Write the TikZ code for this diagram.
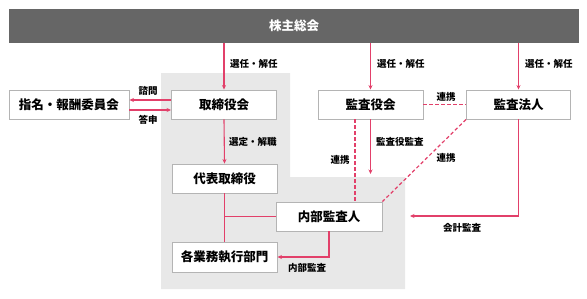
\documentclass[tikz,border=0pt]{standalone}
\usepackage{fontspec}
\setmainfont{Noto Sans CJK JP}
\usetikzlibrary{arrows.meta}
\definecolor{pinkred}{HTML}{E2406A}
\definecolor{barfill}{HTML}{666666}
\definecolor{zone}{HTML}{E8E8E8}
\definecolor{boxline}{HTML}{B4B4B4}
\begin{document}
\begin{tikzpicture}[x=1pt,y=-1pt,
  box/.style={draw=boxline,line width=0.9pt,fill=white,minimum height=29pt,inner sep=0pt,font=\fontsize{12.5}{14}\selectfont\bfseries},
  lbl/.style={font=\fontsize{9.5}{11}\selectfont\bfseries,inner sep=0pt},
  arr/.style={draw=pinkred,line width=1.1pt,-{Stealth[length=4.5pt,width=4pt]}},
  ln/.style={draw=pinkred,line width=1.1pt},
  dsh/.style={draw=pinkred,line width=1.2pt,dash pattern=on 3.5pt off 2.5pt}]
\useasboundingbox (0,0) rectangle (587,298);
% gray zone
\fill[zone] (161,73) -- (290,73) -- (290,177) -- (405,177) -- (405,289) -- (161,289) -- cycle;
% top bar
\node[fill=barfill,minimum width=570pt,minimum height=34pt,inner sep=0pt,text=white,font=\fontsize{12.5}{14}\selectfont\bfseries] (sh) at (294,26) {株主総会};
% boxes
\node[box,minimum width=120pt] (shimei) at (69,104.5) {指名・報酬委員会};
\node[box,minimum width=105pt] (tori) at (224,104.5) {取締役会};
\node[box,minimum width=105pt] (kansa) at (370.5,104.5) {監査役会};
\node[box,minimum width=104pt] (hojin) at (518.5,104.5) {監査法人};
\node[box,minimum width=105pt] (daihyo) at (224.5,178.5) {代表取締役};
\node[box,minimum width=106pt] (naibu) at (329,216.5) {内部監査人};
\node[box,minimum width=105pt,minimum height=30pt] (gyomu) at (224.5,257) {各業務執行部門};
\coordinate (kaikei) at (410,216);
% connectors
\draw[arr] (tori.north |- sh.south) -- (tori.north);
\draw[arr] (kansa.north |- sh.south) -- (kansa.north);
\draw[arr] (hojin.north |- sh.south) -- (hojin.north);
\draw[arr] (tori.west |- 0,100) -- (shimei.east |- 0,100);
\draw[arr] (shimei.east |- 0,110) -- (tori.west |- 0,110);
\draw[arr] (tori.south) -- (daihyo.north);
\draw[dsh] (kansa.east) -- (hojin.west);
\draw[arr] (kansa.south) -- (kansa.south |- 0,174);
\draw[dsh] (kansa.south -| 355,0) -- (naibu.north -| 355,0);
\draw[dsh] (hojin.south west) -- (naibu.north east);
\draw[arr] (hojin.south) |- (kaikei);
\draw[ln] (daihyo.south) -- (gyomu.north);
\draw[ln] (daihyo.south |- naibu.west) -- (naibu.west);
\draw[arr] (naibu.south) |- (gyomu.east);
% labels
\node[lbl,anchor=west] (l1) at (230,64) {選任・解任};
\node[lbl,anchor=west] (l2) at (377,64) {選任・解任};
\node[lbl,anchor=west] (l3) at (525,64) {選任・解任};
\node[lbl] (l4) at (148,91) {諮問};
\node[lbl] (l5) at (148,120) {答申};
\node[lbl,anchor=west] (l6) at (229,142) {選定・解職};
\node[lbl] (l7) at (446,97) {連携};
\node[lbl,anchor=west] (l8) at (376,142) {監査役監査};
\node[lbl] (l9) at (340,160) {連携};
\node[lbl] (l10) at (446,158) {連携};
\node[lbl] (l11) at (462,228) {会計監査};
\node[lbl] (l12) at (307,268) {内部監査};
\end{tikzpicture}
\end{document}
